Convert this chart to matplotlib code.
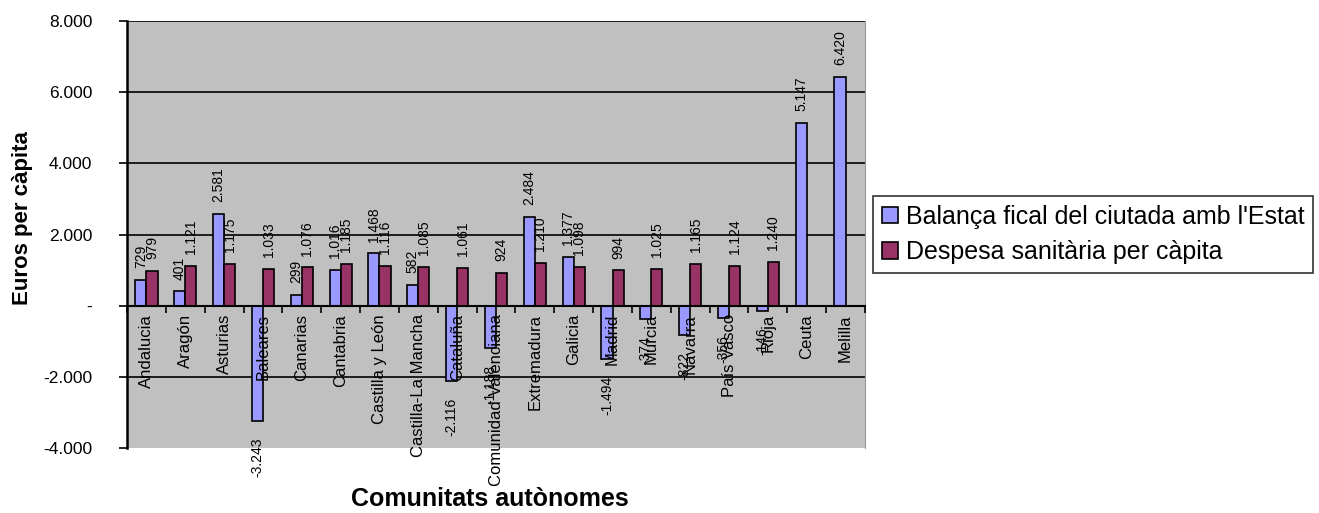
import numpy as np
import matplotlib
matplotlib.use("Agg")
from matplotlib import pyplot as plt
from matplotlib.ticker import FixedLocator, FuncFormatter

plt.rcParams['font.family'] = ['Liberation Sans', 'DejaVu Sans']

regions = ["Andalucia", "Aragón", "Asturias", "Baleares", "Canarias", "Cantabria",
           "Castilla y León", "Castilla-La Mancha", "Cataluña", "Comunidad Valenciana",
           "Extremadura", "Galicia", "Madrid", "Murcia", "Navarra", "País Vasco",
           "Rioja", "Ceuta", "Melilla"]
balanca = [729, 401, 2581, -3243, 299, 1016, 1468, 582, -2116, -1188,
           2484, 1377, -1494, -374, -822, -356, -146, 5147, 6420]
despesa = [979, 1121, 1175, 1033, 1076, 1185, 1116, 1085, 1061, 924,
           1210, 1098, 994, 1025, 1165, 1124, 1240, np.nan, np.nan]

series_names = ["Balança fical del ciutada amb l'Estat", "Despesa sanitària per càpita"]
colors = ["#9999FF", "#993366"]
yticks = [-4000, -2000, 0, 2000, 4000, 6000, 8000]


def fmt(v):
    if v == 0:
        return "-"
    s = f"{abs(v):,.0f}".replace(",", ".")
    return ("-" if v < 0 else "") + s


fig = plt.figure(figsize=(13.19, 5.13), dpi=100)
ax = fig.add_axes([0.0963, 0.1267, 0.5595, 0.8323])
ax.set_facecolor("#C0C0C0")

# grid drawn by hand so the category labels can sit above the bars
for t in yticks[1:]:
    ax.axhline(t, color="black", linewidth=1.2, zorder=1)

x = np.arange(len(regions))
w = 1 / 3.5
bars = []
for i, (vals, c) in enumerate(zip([balanca, despesa], colors)):
    b = ax.bar(x + (i - 0.5) * w, vals, w, color=c, edgecolor="black",
               linewidth=1.2, label=series_names[i], zorder=2)
    bars.append(b)
    for xi, v in zip(x + (i - 0.5) * w, vals):
        if np.isnan(v):
            continue
        off = 8.5 if v >= 0 else -12
        ax.annotate(fmt(v), (xi, v), xytext=(0, off), textcoords="offset points",
                    rotation=90, ha="center", va="bottom" if v >= 0 else "top",
                    fontsize=10, zorder=6, annotation_clip=False)

ax.set_xlim(-0.5, len(regions) - 0.5)
ax.set_ylim(-4000, 8000)
ax.yaxis.set_major_locator(FixedLocator(yticks))
ax.yaxis.set_major_formatter(FuncFormatter(lambda v, p: fmt(v)))
ax.tick_params(axis="y", labelsize=12.5, length=6, width=1.2, direction="out", pad=19)

# x axis sits on the zero line
ax.spines["bottom"].set_position(("data", 0))
ax.spines["bottom"].set_linewidth(1.5)
ax.spines["left"].set_linewidth(1.8)
ax.spines["top"].set_visible(False)
ax.spines["right"].set_color("#999999")
ax.set_xticks(np.arange(len(regions) + 1) - 0.5)
ax.set_xticklabels([])
ax.tick_params(axis="x", which="major", length=5, width=1.2, direction="out")
ax.set_xticks(x, minor=True)
ax.set_xticklabels(regions, minor=True, rotation=90, va="top", fontsize=12)
ax.tick_params(axis="x", which="minor", length=0, pad=6)
ax.xaxis.set_zorder(5)
ax.spines["bottom"].set_zorder(5)

fig.text(0.017, 0.575, "Euros per càpita", rotation=90, fontsize=16,
         fontweight="bold", ha="center", va="center")
fig.text(0.3715, 0.027, "Comunitats autònomes", fontsize=18,
         fontweight="bold", ha="center", va="center")

leg = fig.legend(handles=bars, labels=series_names, loc="upper left",
                 bbox_to_anchor=(0.662, 0.618), fontsize=18, frameon=True,
                 fancybox=False, edgecolor="black", handlelength=0.65,
                 handleheight=0.65, handletextpad=0.3, borderpad=0.35,
                 labelspacing=0.45, borderaxespad=0)
leg.get_frame().set_linewidth(1.2)

fig.savefig("out.png", dpi=100)
